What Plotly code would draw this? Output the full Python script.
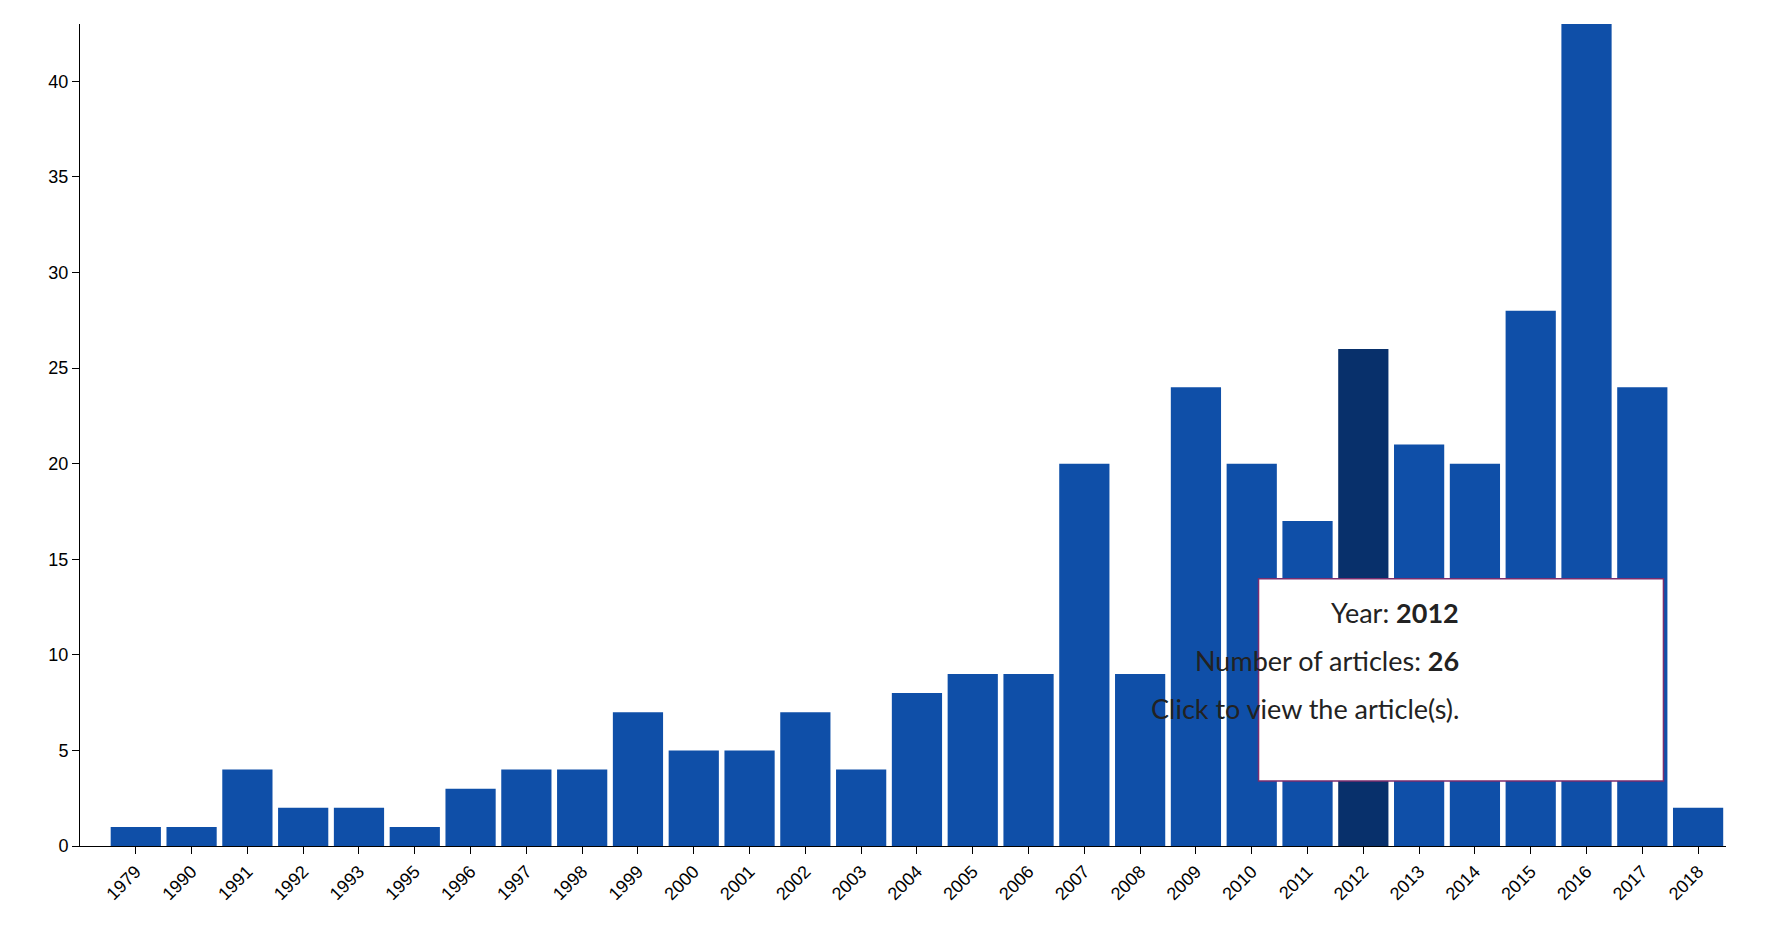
import plotly.graph_objects as go

years = ["1979", "1990", "1991", "1992", "1993", "1995", "1996", "1997", "1998", "1999",
         "2000", "2001", "2002", "2003", "2004", "2005", "2006", "2007", "2008", "2009",
         "2010", "2011", "2012", "2013", "2014", "2015", "2016", "2017", "2018"]
articles = [1, 1, 4, 2, 2, 1, 3, 4, 4, 7,
            5, 5, 7, 4, 8, 9, 9, 20, 9, 24,
            20, 17, 26, 21, 20, 28, 43, 24, 2]
hover_year = "2012"

colors = ["#08306b" if y == hover_year else "#0f4fa8" for y in years]

fig = go.Figure()
fig.add_trace(go.Bar(x=years, y=articles, marker_color=colors, marker_line_width=0))

# tooltip box
n_hover = articles[years.index(hover_year)]
fig.add_shape(type="rect", xref="paper", yref="paper", x0=0.716, x1=0.962, y0=0.079, y1=0.325,
              fillcolor="white", line=dict(color="#7b2d6e", width=1.5), layer="above")
tip_lines = [f"Year: <b>{hover_year}</b>", f"Number of articles: <b>{n_hover}</b>",
             "Click to view the article(s)."]
for line, ypos in zip(tip_lines, [0.261, 0.203, 0.145]):
    fig.add_annotation(xref="paper", yref="paper", x=0.839, y=ypos, text=line, showarrow=False,
                       font=dict(family="Lato, Open Sans, sans-serif", size=27, color="#222"))

fig.update_layout(
    width=1790, height=936,
    margin=dict(l=72, r=72, t=16, b=98),
    plot_bgcolor="white", paper_bgcolor="white",
    bargap=0.1, showlegend=False,
    font=dict(family="Liberation Sans, Arial, sans-serif", size=18, color="black"),
)
fig.update_xaxes(
    type="category", range=[-1, 28.5], tickangle=-45, showgrid=False,
    showline=True, linecolor="black", ticks="outside", ticklen=7, tickcolor="black",
)
fig.update_yaxes(
    range=[0, 43], dtick=5, showgrid=False, zeroline=False,
    showline=True, linecolor="black", ticks="outside", ticklen=7, tickcolor="black",
)

fig.write_html("out.html")
